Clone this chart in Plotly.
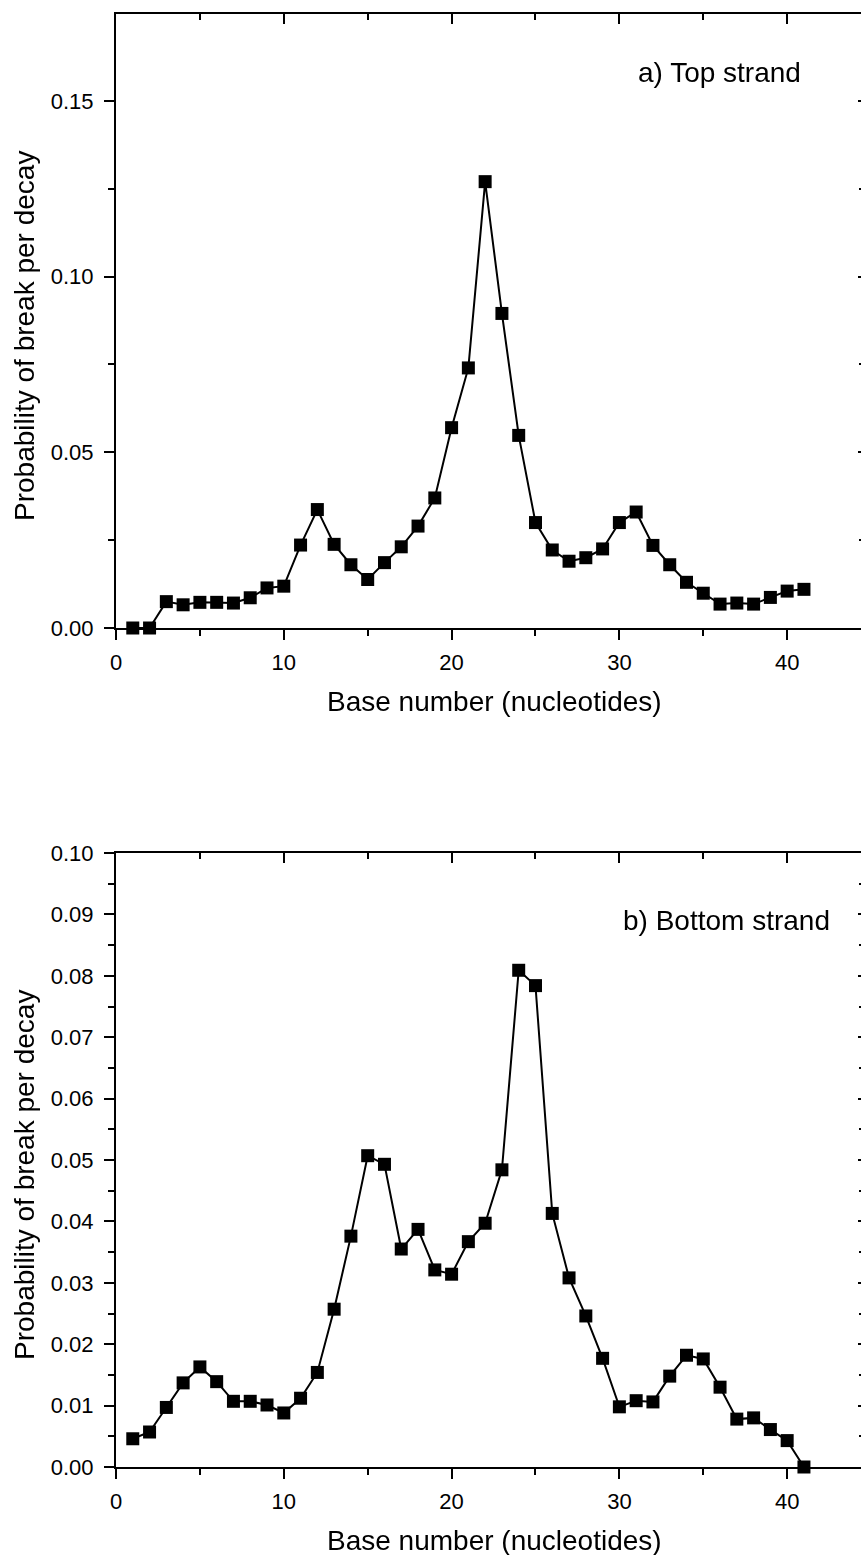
import plotly.graph_objects as go

base = list(range(1, 42))
top_strand = [0.000, 0.000, 0.0075, 0.0066, 0.0073, 0.0073, 0.0071, 0.0086, 0.0114, 0.0119,
              0.0236, 0.0337, 0.0238, 0.0180, 0.0138, 0.0186, 0.0231, 0.0290, 0.0370, 0.0570,
              0.0740, 0.1270, 0.0895, 0.0548, 0.0300, 0.0222, 0.0190, 0.0200, 0.0225, 0.0300,
              0.0330, 0.0235, 0.0180, 0.0130, 0.0099, 0.0068, 0.0071, 0.0068, 0.0087, 0.0105,
              0.0110]
bottom_strand = [0.0046, 0.0057, 0.0097, 0.0137, 0.0163, 0.0139, 0.0107, 0.0107, 0.0101, 0.0088,
                 0.0112, 0.0154, 0.0257, 0.0376, 0.0507, 0.0493, 0.0355, 0.0387, 0.0321, 0.0314,
                 0.0367, 0.0397, 0.0484, 0.0809, 0.0784, 0.0413, 0.0308, 0.0246, 0.0177, 0.0098,
                 0.0108, 0.0106, 0.0148, 0.0182, 0.0176, 0.0130, 0.0078, 0.0080, 0.0061, 0.0043,
                 0.0000]
x_ticks = [0, 10, 20, 30, 40]
top_yticks = [0.00, 0.05, 0.10, 0.15]
bottom_yticks = [0.00, 0.01, 0.02, 0.03, 0.04, 0.05, 0.06, 0.07, 0.08, 0.09, 0.10]
x_title = "Base number (nucleotides)"
y_title = "Probability of break per decay"
panel_labels = ["a) Top strand", "b) Bottom strand"]

W, H = 861, 1555
ML, MR, MT, MB = 116, 0, 14, 88
PH = H - MT - MB
XR = [0, 44.4]
FONT = "Liberation Sans, Arial, sans-serif"

def py(px):
    return (H - MB - px) / PH

def pxx(px):
    return (px - ML) / (W - ML - MR)

fig = go.Figure()

def add_panel(idx, yvals, ydom, yrange, ytickvals, ydminor, label_xy):
    xa = "x" if idx == 0 else "x3"
    ya = "y" if idx == 0 else "y3"
    xb = "x2" if idx == 0 else "x4"
    yb = "y2" if idx == 0 else "y4"
    fig.add_trace(go.Scatter(x=base, y=yvals, xaxis=xa, yaxis=ya, mode="lines+markers",
                             line=dict(color="black", width=2),
                             marker=dict(symbol="square", size=13, color="black"),
                             cliponaxis=False, showlegend=False, hoverinfo="skip"))
    fig.add_trace(go.Scatter(x=base, y=yvals, xaxis=xb, yaxis=yb, mode="markers",
                             opacity=0, hoverinfo="skip", showlegend=False))
    n = "" if idx == 0 else "3"
    m = "2" if idx == 0 else "4"
    tf = dict(family=FONT, size=22, color="black")
    fig.layout["xaxis" + n] = dict(domain=[0, 1], anchor=ya, range=XR, tickvals=x_ticks,
                                   ticks="outside", ticklen=10, tickwidth=2, tickcolor="black",
                                   showline=True, linewidth=2, linecolor="black",
                                   showgrid=False, zeroline=False, tickfont=tf,
                                   ticklabelstandoff=4,
                                   minor=dict(dtick=5, tick0=0, ticks="outside", ticklen=6,
                                              tickwidth=2, tickcolor="black", showgrid=False))
    fig.layout["xaxis" + m] = dict(domain=[0, 1], anchor=yb, overlaying=xa, side="top",
                                   range=XR, tickvals=x_ticks, showticklabels=False,
                                   ticks="inside", ticklen=10, tickwidth=2, tickcolor="black",
                                   showline=True, linewidth=2, linecolor="black",
                                   showgrid=False, zeroline=False,
                                   minor=dict(dtick=5, tick0=0, ticks="inside", ticklen=6,
                                              tickwidth=2, tickcolor="black", showgrid=False))
    fig.layout["yaxis" + n] = dict(domain=ydom, anchor=xa, range=yrange, tickvals=ytickvals,
                                   tickformat=".2f", ticks="outside", ticklen=10, tickwidth=2,
                                   tickcolor="black", showline=True, linewidth=2,
                                   linecolor="black", showgrid=False, zeroline=False,
                                   tickfont=tf, ticklabelstandoff=6,
                                   minor=dict(dtick=ydminor, tick0=0, ticks="outside",
                                              ticklen=6, tickwidth=2, tickcolor="black",
                                              showgrid=False))
    fig.layout["yaxis" + m] = dict(domain=ydom, anchor=xb, overlaying=ya, side="right",
                                   range=yrange, tickvals=ytickvals, showticklabels=False,
                                   ticks="inside", ticklen=3, tickwidth=2, tickcolor="black",
                                   showline=False, showgrid=False, zeroline=False,
                                   minor=dict(dtick=ydminor, tick0=0, ticks="inside",
                                              ticklen=2, tickwidth=2, tickcolor="black",
                                              showgrid=False))
    fig.add_annotation(text=panel_labels[idx], xref=xa, yref=ya, x=label_xy[0], y=label_xy[1],
                       xanchor="left", yanchor="middle", showarrow=False,
                       font=dict(family=FONT, size=28, color="black"))

add_panel(0, top_strand, [py(628), py(14)], [0, 0.1747], top_yticks, 0.025, (31.0, 0.158))
add_panel(1, bottom_strand, [py(1467), py(853)], [0, 0.1], bottom_yticks, 0.005, (30.1, 0.089))

for ax_px in [628, 1467]:
    fig.add_annotation(text=x_title, xref="paper", yref="paper", x=pxx(494), y=py(ax_px + 73),
                       xanchor="center", yanchor="middle", showarrow=False,
                       font=dict(family=FONT, size=28, color="black"))
    fig.add_annotation(text=y_title, xref="paper", yref="paper", x=pxx(24), y=py(ax_px - 292),
                       xanchor="center", yanchor="middle", textangle=-90, showarrow=False,
                       font=dict(family=FONT, size=28, color="black"))

fig.update_layout(width=W, height=H, margin=dict(l=ML, r=MR, t=MT, b=MB),
                  paper_bgcolor="white", plot_bgcolor="white")

fig.write_html("out.html", config={"displayModeBar": False},
               post_script="document.body.style.margin='0';")
